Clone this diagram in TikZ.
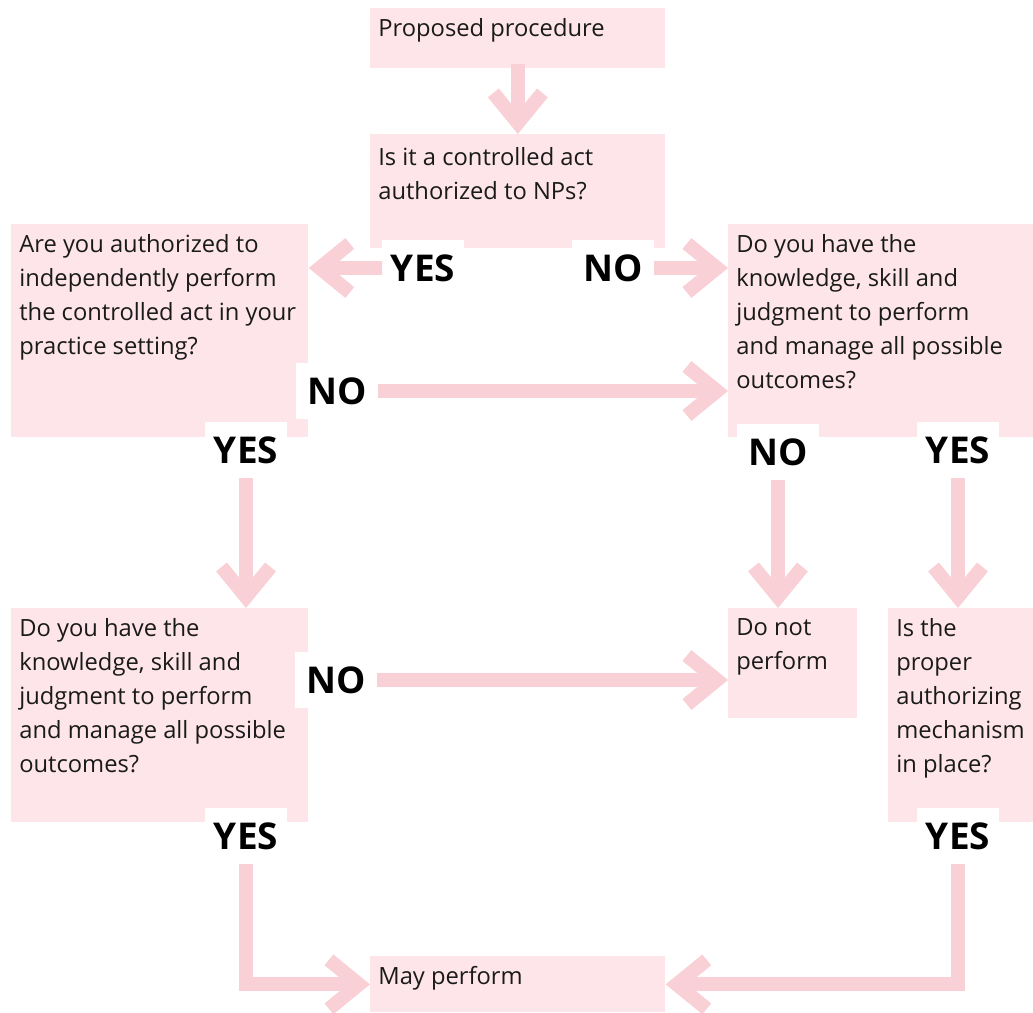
\documentclass[tikz,border=0pt]{standalone}
\usepackage{fontspec}
\setmainfont{Open Sans}
\usetikzlibrary{arrows.meta}
\definecolor{pinkbox}{HTML}{FDE5E9}
\definecolor{pinkarrow}{HTML}{F9D0D6}
\definecolor{ink}{HTML}{1A1A1A}

\begin{document}
\begin{tikzpicture}[
  box/.style={rectangle,fill=pinkbox,inner sep=0pt,anchor=north west},
  txt/.style={anchor=north west,inner sep=0pt,align=left,text=ink,font=\fontsize{13.5}{19.3}\selectfont},
  answer/.style={fill=white,inner sep=0pt,minimum width=1.64cm,minimum height=1.12cm,font=\fontsize{21}{25}\selectfont\bfseries},
  arrow/.style={-{Straight Barb[length=.6cm,width=.98cm]},line width=.28cm,draw=pinkarrow}
]
\useasboundingbox (0,0) rectangle (20.66,-20.26);

% question boxes
\node[box,minimum width=5.9cm,minimum height=1.2cm] (proposed) at (7.4,-.16) {};
\node[box,minimum width=5.9cm,minimum height=2.28cm] (controlled) at (7.4,-2.68) {};
\node[box,minimum width=5.94cm,minimum height=4.26cm] (authorized) at (.22,-4.48) {};
\node[box,minimum width=6.1cm,minimum height=4.26cm] (competentR) at (14.56,-4.48) {};
\node[box,minimum width=5.94cm,minimum height=4.28cm] (competentL) at (.22,-12.16) {};
\node[box,minimum width=2.58cm,minimum height=2.2cm] (donot) at (14.56,-12.16) {};
\node[box,minimum width=2.9cm,minimum height=4.28cm] (mechanism) at (17.76,-12.16) {};
\node[box,minimum width=5.9cm,minimum height=1.12cm] (may) at (7.4,-19.12) {};

\node[txt] at ([xshift=.16cm,yshift=-.2cm]proposed.north west) {Proposed procedure};
\node[txt] at ([xshift=.16cm,yshift=-.26cm]controlled.north west) {Is it a controlled act\\authorized to NPs?};
\node[txt] at ([xshift=.16cm,yshift=-.2cm]authorized.north west) {Are you authorized to\\independently perform\\the controlled act in your\\practice setting?};
\node[txt] at ([xshift=.16cm,yshift=-.2cm]competentR.north west) {Do you have the\\knowledge, skill and\\judgment to perform\\and manage all possible\\outcomes?};
\node[txt] at ([xshift=.16cm,yshift=-.2cm]competentL.north west) {Do you have the\\knowledge, skill and\\judgment to perform\\and manage all possible\\outcomes?};
\node[txt] at ([xshift=.16cm,yshift=-.2cm]donot.north west) {Do not\\perform};
\node[txt] at ([xshift=.16cm,yshift=-.2cm]mechanism.north west) {Is the\\proper\\authorizing\\mechanism\\in place?};
\node[txt] at ([xshift=.16cm,yshift=-.2cm]may.north west) {May perform};

% answers
\node[answer] (yes1) at (8.46,-5.36) {YES};
\node[answer] (no1) at (12.26,-5.36) {NO};
\node[answer] (no2) at (6.74,-7.82) {NO};
\node[answer] (yes2) at (4.92,-9) {YES};
\node[answer] (no3) at (15.56,-9.04) {NO};
\node[answer] (yes3) at (19.16,-9) {YES};
\node[answer] (no4) at (6.72,-13.6) {NO};
\node[answer] (yes4) at (4.92,-16.72) {YES};
\node[answer] (yes5) at (19.16,-16.72) {YES};

% arrows
\draw[arrow] ([yshift=.1cm]proposed.south) -- (controlled.north);
\draw[arrow] (yes1.west) -- (authorized.east |- yes1.west);
\draw[arrow] (no1.east) -- (competentR.west |- no1.east);
\draw[arrow] (no2.east) -- (competentR.west |- no2.east);
\draw[arrow] (yes2.south) -- (competentL.north -| yes2.south);
\draw[arrow] (no3.south) -- (donot.north -| no3.south);
\draw[arrow] (yes3.south) -- (mechanism.north -| yes3.south);
\draw[arrow] (no4.east) -- (donot.west |- no4.east);
\draw[arrow] (yes4.south) |- (may.west);
\draw[arrow] (yes5.south) |- (may.east);
\end{tikzpicture}
\end{document}
